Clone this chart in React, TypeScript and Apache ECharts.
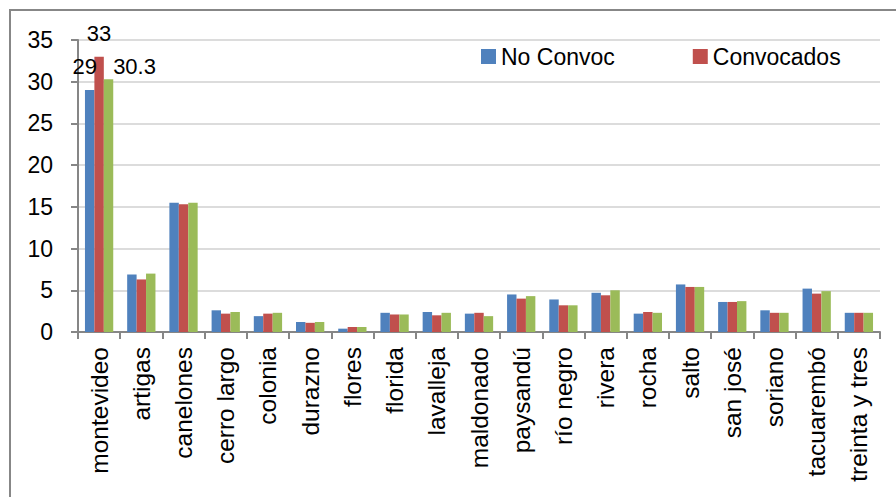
import React, { useEffect, useRef } from "react";
import * as echarts from "echarts";

// Departments along the category axis
const categories = [
  "montevideo",
  "artigas",
  "canelones",
  "cerro largo",
  "colonia",
  "durazno",
  "flores",
  "florida",
  "lavalleja",
  "maldonado",
  "paysandú",
  "río negro",
  "rivera",
  "rocha",
  "salto",
  "san josé",
  "soriano",
  "tacuarembó",
  "treinta y tres",
];

// Percentages per department
const noConvoc = [29, 6.9, 15.5, 2.6, 1.9, 1.2, 0.4, 2.3, 2.4, 2.2, 4.5, 3.9, 4.7, 2.2, 5.7, 3.6, 2.6, 5.2, 2.3];
const convocados = [33, 6.3, 15.3, 2.2, 2.2, 1.1, 0.6, 2.1, 2.0, 2.3, 4.0, 3.2, 4.4, 2.4, 5.4, 3.6, 2.3, 4.6, 2.3];
const total = [30.3, 7.0, 15.5, 2.4, 2.3, 1.2, 0.6, 2.1, 2.3, 1.9, 4.3, 3.2, 5.0, 2.3, 5.4, 3.7, 2.3, 4.9, 2.3];

const yTicks = { min: 0, max: 35, interval: 5 };

const FONT = "'Liberation Sans', Arial, sans-serif";

// Only the first department carries a value label, each nudged into place
function withFirstLabel(values: number[], offset: [number, number]) {
  return values.map((v, i) =>
    i === 0
      ? {
          value: v,
          label: {
            show: true,
            position: "top",
            offset,
            color: "#000",
            fontSize: 22,
            fontFamily: FONT,
            formatter: (p: any) => String(p.value),
          },
        }
      : v
  );
}

export default function App() {
  const ref = useRef<HTMLDivElement>(null);

  useEffect(() => {
    if (!ref.current) return;
    const chart = echarts.init(ref.current, undefined, { renderer: "svg" });
    chart.setOption({
      animation: false,
      backgroundColor: "#fff",
      textStyle: { fontFamily: FONT },
      graphic: [
        {
          type: "rect",
          shape: { x: 10, y: 10, width: 900, height: 500 },
          style: { fill: "none", stroke: "#878787", lineWidth: 2 },
          silent: true,
        },
      ],
      legend: {
        data: ["No Convoc", "Convocados"],
        left: 476,
        top: 40,
        itemWidth: 15,
        itemHeight: 15,
        itemGap: 78,
        icon: "rect",
        textStyle: { fontSize: 23, color: "#000", fontFamily: FONT },
      },
      grid: { left: 78, right: 16, top: 40, bottom: 165, containLabel: false },
      xAxis: {
        type: "category",
        data: categories,
        axisLine: { lineStyle: { color: "#868686", width: 2 } },
        axisTick: { show: true, length: 7, lineStyle: { color: "#868686", width: 2 } },
        axisLabel: {
          rotate: 90,
          interval: 0,
          margin: 15,
          fontSize: 24.5,
          color: "#000",
          fontFamily: FONT,
        },
      },
      yAxis: {
        type: "value",
        min: yTicks.min,
        max: yTicks.max,
        interval: yTicks.interval,
        axisLine: { show: true, lineStyle: { color: "#868686", width: 2 } },
        axisTick: { show: true, length: 7, lineStyle: { color: "#868686", width: 2 } },
        axisLabel: { margin: 25, fontSize: 23, color: "#000", fontFamily: FONT },
        splitLine: { lineStyle: { color: "#dcdcdc", width: 2 } },
      },
      series: [
        {
          name: "No Convoc",
          type: "bar",
          data: withFirstLabel(noConvoc, [-5, -8]),
          itemStyle: { color: "#4F81BD" },
          barGap: "0%",
          barCategoryGap: "33%",
        },
        {
          name: "Convocados",
          type: "bar",
          data: withFirstLabel(convocados, [0, -7]),
          itemStyle: { color: "#C0504D" },
          barGap: "0%",
          barCategoryGap: "33%",
        },
        {
          name: "Total",
          type: "bar",
          data: withFirstLabel(total, [26, 3]),
          itemStyle: { color: "#9BBB59" },
          barGap: "0%",
          barCategoryGap: "33%",
        },
      ],
    });
    return () => chart.dispose();
  }, []);

  return (
    <div
      ref={ref}
      style={{ position: "fixed", left: 0, top: 0, width: 896, height: 497 }}
    />
  );
}
